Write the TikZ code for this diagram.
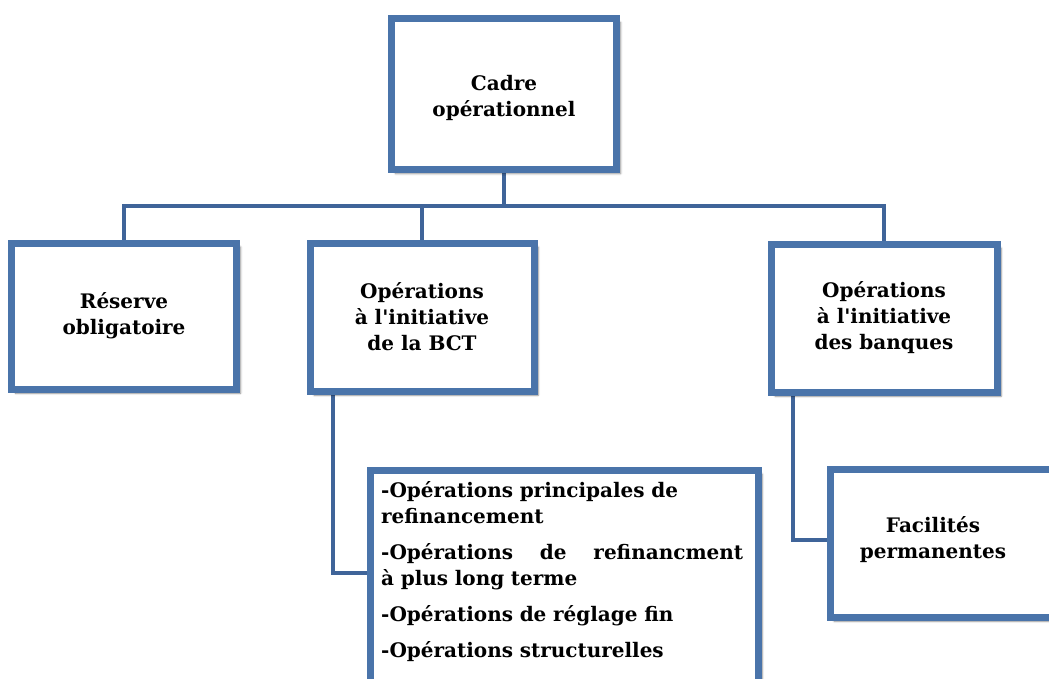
\documentclass[tikz,border=0pt]{standalone}
\usepackage{fontspec}
\setmainfont{DejaVu Serif}[Ligatures=TeXOff]
\usetikzlibrary{shadows.blur}
\pgfdeclarelayer{background}
\pgfsetlayers{background,main}
\definecolor{boxblue}{HTML}{4A74AA}
\definecolor{lineblue}{HTML}{3F6499}
\tikzset{
  box/.style={draw=boxblue, line width=7pt, fill=white, rectangle,
    blur shadow={shadow xshift=4pt, shadow yshift=-4pt, shadow blur steps=8, shadow opacity=45},
    align=center, font=\fontsize{20}{26}\selectfont\bfseries, inner sep=0pt},
  conn/.style={draw=lineblue, line width=3.5pt},
  txt/.style={font=\fontsize{20}{26}\selectfont\bfseries},
}
\begin{document}
\begin{tikzpicture}[x=1pt,y=-1pt]
\useasboundingbox (0,0) rectangle (1049,678);
\coordinate (bus) at (504,206);
\coordinate (midturn) at (333,573);
\coordinate (rightturn) at (793,540);
% boxes
\node[box, minimum width=225pt, minimum height=151pt] (top) at (504,94) {};
\node[txt, align=center] (toptext) at (504,98) {Cadre\\op\'erationnel};
\node[box, minimum width=225pt, minimum height=146pt] (res) at (124,316) {R\'eserve\\obligatoire};
\node[box, minimum width=224pt, minimum height=148pt] (bct) at (422,317) {Op\'erations\\\`a l'initiative\\de la BCT};
\node[box, minimum width=226pt, minimum height=148pt] (bank) at (884,318) {Op\'erations\\\`a l'initiative\\des banques};
\node[box, minimum width=388pt, minimum height=250pt, anchor=north west] (detail) at (366.5,466.5) {};
\node[box, minimum width=240pt, minimum height=148pt, anchor=north west] (fac) at (826.5,465.5) {};
\node[txt, align=center] (factext) at (933,540) {Facilit\'es\\permanentes};
\node[txt, anchor=north west, text width=362pt, align=left, inner sep=0pt] (dtext) at (381,481)
 {-Op\'erations principales de\\refinancement\par\vspace{10pt}
  \hbox to \linewidth{-Op\'erations\hfil de\hfil refinancment}\par
  \`a plus long terme\par\vspace{10pt}
  -Op\'erations de r\'eglage fin\par\vspace{10pt}
  -Op\'erations structurelles};
% connectors behind boxes
\begin{pgfonlayer}{background}
\draw[conn] (top.south) -- (bus);
\draw[conn] (bus) -| (res.north);
\draw[conn] (bus) -| (bank.north);
\draw[conn] (bus) -| (bct.north);
\draw[conn] (bct.south -| midturn) -- (midturn) -- (midturn -| detail.west);
\draw[conn] (bank.south -| rightturn) -- (rightturn) -- (rightturn -| fac.west);
\end{pgfonlayer}
\end{tikzpicture}
\end{document}
